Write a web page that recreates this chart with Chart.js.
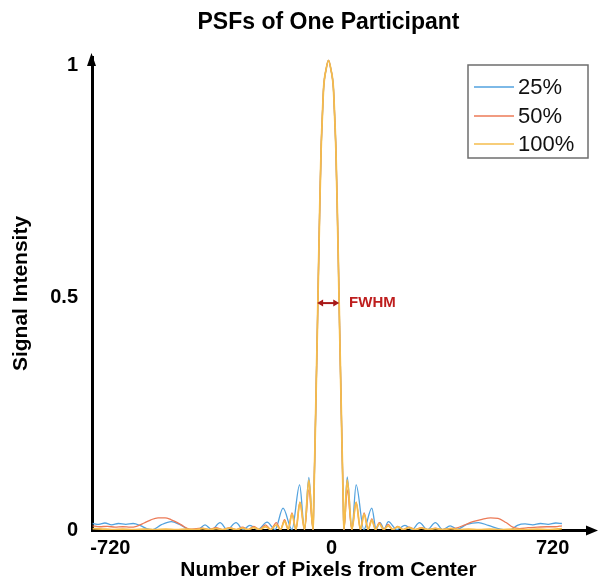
<!DOCTYPE html>
<html>
<head>
<meta charset="utf-8">
<script src="https://cdn.jsdelivr.net/npm/chart.js@4.4.1/dist/chart.umd.min.js"></script>
<style>
  html, body { margin: 0; padding: 0; background: #ffffff; }
  #wrap { width: 598px; height: 580px; }
</style>
</head>
<body>
<div id="wrap"><canvas id="c" width="598" height="580"></canvas></div>
<script>
// ---------- data ----------
const chartTitle = 'PSFs of One Participant';
const xAxisTitle = 'Number of Pixels from Center';
const yAxisTitle = 'Signal Intensity';
const seriesLabels = ['25%', '50%', '100%'];
const xTickValues = [-720, 0, 720];
const yTickValues = [0, 0.5, 1];

// central lobe, common to all three series (pixels from center, intensity)
const lobeX = [-48,-44,-40,-36,-32,-28,-24,-20,-16,-8,0,8,16,20,24,28,32,36,40,44,48];
const lobeY = [0.06,0.18,0.31,0.44,0.58,0.71,0.82,0.89,0.95,0.99,1.01,0.99,0.95,0.89,0.82,0.71,0.58,0.44,0.31,0.18,0.06];

// 25 % series: side lobes left / right of the central lobe
const x25Left  = [-768,-748,-728,-706,-684,-660,-636,-614,-592,-572,-545,-512,-482,-452,-425,-402,-380,-353,-330,-301,-278,-256,-230,-200,-174,-148,-119,-94,-78,-64,-50];
const y25Left  = [0.014,0.012,0.015,0.011,0.014,0.012,0.014,0.010,0.003,0.001,0.011,0.018,0.011,0.001,0.001,0.011,0.001,0.016,0.001,0.016,0.001,0.010,0.001,0.017,0.001,0.047,0.001,0.097,0.001,0.113,0];
const x25Right = [50,61,76,90,115,141,155,168,181,195,222,249,272,296,322,348,372,396,420,450,488,520,560,591,615,640,665,690,715,740,760];
const y25Right = [0,0.114,0.001,0.097,0.001,0.047,0.002,0.016,0.002,0.018,0.001,0.010,0.001,0.016,0.001,0.016,0.001,0.009,0.002,0.012,0.016,0.010,0.002,0.000,0.010,0.013,0.011,0.014,0.012,0.015,0.014];

// 50 % series
const x50Left  = [-768,-745,-720,-695,-670,-645,-625,-600,-578,-555,-532,-512,-492,-472,-452,-430,-410,-390,-366,-345,-322,-300,-280,-262,-243,-225,-205,-188,-170,-156,-143,-131,-119,-106,-93,-78,-64,-50];
const y50Left  = [0.009,0.007,0.008,0.006,0.007,0.006,0.008,0.015,0.022,0.026,0.026,0.022,0.016,0.008,0.002,0.003,0.004,0.001,0.005,0.001,0.005,0.001,0.006,0.001,0.008,0.001,0.011,0.001,0.016,0.001,0.022,0.001,0.037,0.001,0.060,0.001,0.086,0];
const x50Right = [50,61,76,90,104,116,129,141,153,165,180,194,210,225,243,262,282,302,325,348,370,392,415,440,470,500,528,552,578,600,622,650,680,710,738,760];
const y50Right = [0,0.086,0.001,0.060,0.001,0.037,0.001,0.024,0.001,0.016,0.001,0.012,0.001,0.008,0.001,0.006,0.001,0.005,0.001,0.004,0.001,0.003,0.004,0.010,0.018,0.023,0.026,0.025,0.016,0.006,0.003,0.005,0.006,0.007,0.007,0.009];

// 100 % series
const x100Left  = [-768,-735,-705,-670,-635,-600,-565,-530,-495,-462,-432,-410,-388,-366,-344,-322,-300,-280,-262,-243,-225,-205,-188,-170,-156,-143,-131,-119,-106,-93,-78,-64,-50];
const y100Left  = [0.003,0.002,0.001,0.002,0.001,0.002,0.001,0.002,0.001,0.002,0.001,0.003,0.001,0.003,0.001,0.004,0.001,0.004,0.001,0.005,0.001,0.007,0.001,0.011,0.001,0.019,0.001,0.034,0.001,0.060,0.001,0.107,0];
const x100Right = [50,61,76,90,104,116,129,141,153,165,180,194,210,226,243,262,282,302,325,348,372,398,425,455,490,525,560,600,640,680,720,760];
const y100Right = [0,0.108,0.001,0.060,0.001,0.034,0.001,0.021,0.001,0.013,0.001,0.009,0.001,0.007,0.001,0.005,0.001,0.004,0.001,0.003,0.001,0.003,0.001,0.002,0.001,0.002,0.001,0.002,0.001,0.002,0.001,0.003];

// FWHM annotation (data coordinates)
const fwhmFrom = -37;
const fwhmTo = 35;
const fwhmLevel = 0.488;
const fwhmLabel = 'FWHM';
const fwhmLabelX = 67;

// ---------- styling ----------
const colors = ['#52A2DF', '#EC7A57', '#F5BC4C'];
const widths = [1.3, 1.3, 1.8];
const FONT = "'Liberation Sans', Arial, Helvetica, sans-serif";
Chart.defaults.font.family = FONT;
Chart.defaults.color = '#000';

function pts(xl, yl, xr, yr) {
  const xs = xl.concat(lobeX, xr);
  const ys = yl.concat(lobeY, yr);
  return xs.map((v, i) => ({ x: v, y: ys[i] }));
}

const decor = {
  id: 'decor',
  afterDraw(chart) {
    const { ctx, chartArea: a, scales: { x, y } } = chart;
    ctx.save();
    // x-axis extension + arrow head
    ctx.strokeStyle = '#000';
    ctx.fillStyle = '#000';
    ctx.lineWidth = 3;
    ctx.beginPath();
    ctx.moveTo(a.right - 1, a.bottom + 0.5);
    ctx.lineTo(589, a.bottom + 0.5);
    ctx.stroke();
    ctx.beginPath();
    ctx.moveTo(598, a.bottom + 0.5);
    ctx.lineTo(586, a.bottom - 4.5);
    ctx.lineTo(586, a.bottom + 5.5);
    ctx.closePath();
    ctx.fill();
    // y-axis arrow head
    ctx.beginPath();
    ctx.moveTo(a.left - 0.5, 53);
    ctx.lineTo(a.left - 5, 66);
    ctx.lineTo(a.left + 4, 66);
    ctx.closePath();
    ctx.fill();

    // FWHM double arrow
    const yP = y.getPixelForValue(fwhmLevel);
    const x1 = x.getPixelForValue(fwhmFrom);
    const x2 = x.getPixelForValue(fwhmTo);
    ctx.strokeStyle = '#A81818';
    ctx.fillStyle = '#A81818';
    ctx.lineWidth = 2;
    ctx.beginPath();
    ctx.moveTo(x1 + 4, yP);
    ctx.lineTo(x2 - 4, yP);
    ctx.stroke();
    ctx.beginPath();
    ctx.moveTo(x1, yP); ctx.lineTo(x1 + 6, yP - 3.5); ctx.lineTo(x1 + 6, yP + 3.5); ctx.closePath(); ctx.fill();
    ctx.beginPath();
    ctx.moveTo(x2, yP); ctx.lineTo(x2 - 6, yP - 3.5); ctx.lineTo(x2 - 6, yP + 3.5); ctx.closePath(); ctx.fill();
    ctx.fillStyle = '#BE1E1E';
    ctx.font = 'bold 15px ' + FONT;
    ctx.textAlign = 'left';
    ctx.textBaseline = 'middle';
    ctx.fillText(fwhmLabel, x.getPixelForValue(fwhmLabelX), yP);

    // legend box
    const bx = 468, by = 65, bw = 120, bh = 93;
    ctx.strokeStyle = '#6E6E6E';
    ctx.lineWidth = 1.5;
    ctx.strokeRect(bx, by, bw, bh);
    const rows = [87, 116, 144];
    ctx.font = '22px ' + FONT;
    chart.data.datasets.forEach((ds, i) => {
      ctx.strokeStyle = ds.borderColor;
      ctx.lineWidth = 1.5;
      ctx.beginPath();
      ctx.moveTo(474, rows[i]);
      ctx.lineTo(514, rows[i]);
      ctx.stroke();
      ctx.fillStyle = '#111';
      ctx.textAlign = 'left';
      ctx.textBaseline = 'middle';
      ctx.fillText(ds.label, 518, rows[i] + 1);
    });
    ctx.restore();
  }
};

new Chart(document.getElementById('c'), {
  type: 'line',
  data: {
    datasets: [
      { label: seriesLabels[0], data: pts(x25Left, y25Left, x25Right, y25Right), borderColor: colors[0], borderWidth: widths[0], order: 2 },
      { label: seriesLabels[1], data: pts(x50Left, y50Left, x50Right, y50Right), borderColor: colors[1], borderWidth: widths[1], order: 1 },
      { label: seriesLabels[2], data: pts(x100Left, y100Left, x100Right, y100Right), borderColor: colors[2], borderWidth: widths[2], order: 0 }
    ]
  },
  options: {
    responsive: false,
    animation: false,
    events: [],
    layout: { padding: { left: 0, right: 33, top: 0, bottom: 0 } },
    elements: {
      line: { cubicInterpolationMode: 'monotone', fill: false },
      point: { radius: 0 }
    },
    plugins: {
      legend: { display: false },
      tooltip: { enabled: false },
      title: {
        display: true,
        text: chartTitle,
        fullSize: false,
        color: '#000',
        font: { size: 23, weight: 'bold', family: FONT },
        padding: { top: 9, bottom: 20.4 }
      }
    },
    scales: {
      x: {
        type: 'linear',
        min: -770,
        max: 770,
        afterFit: s => { s.height = 50; },
        afterBuildTicks: s => { s.ticks = xTickValues.map(v => ({ value: v })); },
        grid: { display: false, drawTicks: false },
        border: { display: true, color: '#000', width: 3 },
        ticks: {
          padding: 6,
          labelOffset: 3,
          maxRotation: 0,
          autoSkip: false,
          font: { size: 20, weight: 'bold', family: FONT },
          color: '#000',
          callback: v => String(v)
        },
        title: {
          display: true,
          text: xAxisTitle,
          color: '#000',
          font: { size: 21, weight: 'bold', family: FONT },
          padding: { top: 0, bottom: -3 }
        }
      },
      y: {
        type: 'linear',
        min: 0,
        max: 1.0172,
        afterFit: s => { s.width = 92; },
        afterBuildTicks: s => { s.ticks = yTickValues.map(v => ({ value: v })); },
        grid: { display: false, drawTicks: false },
        border: { display: true, color: '#000', width: 3 },
        ticks: {
          padding: 14,
          autoSkip: false,
          font: { size: 20, weight: 'bold', family: FONT },
          color: '#000',
          callback: v => String(v)
        },
        title: {
          display: true,
          text: yAxisTitle,
          color: '#000',
          font: { size: 21, weight: 'bold', family: FONT },
          padding: { top: 9, bottom: 0 }
        }
      }
    }
  },
  plugins: [decor]
});
</script>
</body>
</html>
